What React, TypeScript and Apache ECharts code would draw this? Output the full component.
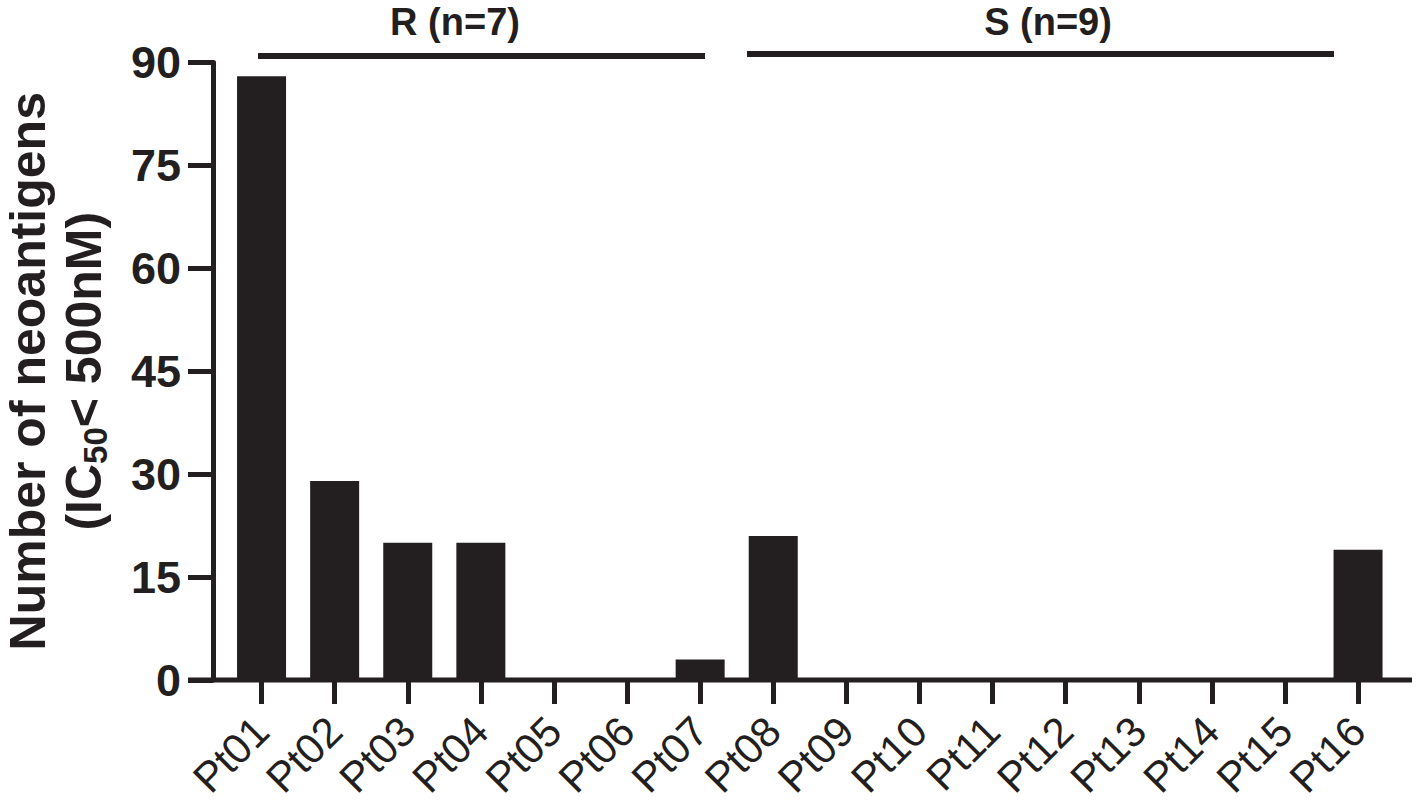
import React, { useEffect, useRef } from "react";
import * as echarts from "echarts";

const categories = ["Pt01","Pt02","Pt03","Pt04","Pt05","Pt06","Pt07","Pt08","Pt09","Pt10","Pt11","Pt12","Pt13","Pt14","Pt15","Pt16"];
const neoantigens = [88, 29, 20, 20, 0, 0, 3, 21, 0, 0, 0, 0, 0, 0, 0, 19];
const groupLabels = ["R (n=7)", "S (n=9)"];
const yMin = 0;
const yMax = 90;
const yInterval = 15;

const INK = "#231f20";
const FONT = "'Liberation Sans', Arial, Helvetica, sans-serif";

export default function App() {
  const ref = useRef<HTMLDivElement>(null);
  useEffect(() => {
    if (!ref.current) return;
    const chart = echarts.init(ref.current, undefined, { renderer: "svg" });
    chart.setOption({
      animation: false,
      backgroundColor: "#ffffff",
      textStyle: { fontFamily: FONT },
      grid: { left: 225, right: 23.4, top: 62.5, bottom: 124, containLabel: false, outerBoundsMode: "none" },
      xAxis: {
        type: "category",
        data: categories,
        axisLine: { show: false },
        axisTick: { show: true, alignWithLabel: true, length: 24, lineStyle: { color: INK, width: 5 } },
        axisLabel: { interval: 0, rotate: 45, margin: 44, fontSize: 42, color: INK, fontFamily: FONT },
        splitLine: { show: false },
      },
      yAxis: {
        type: "value",
        min: yMin,
        max: yMax,
        interval: yInterval,
        offset: 12,
        axisLine: { show: true, lineStyle: { color: INK, width: 5 } },
        axisTick: { show: true, length: 25, lineStyle: { color: INK, width: 5 } },
        axisLabel: { margin: 32, fontSize: 45, fontWeight: "bold", color: INK, fontFamily: FONT },
        splitLine: { show: false },
        name: "{a|Number of neoantigens}\n{a|(IC}{sub|50}{a|< 500nM)}",
        nameLocation: "middle",
        nameGap: 101,
        nameTextStyle: {
          color: INK,
          fontFamily: FONT,
          lineHeight: 56,
          rich: {
            a: { fontSize: 50, fontWeight: "bold", color: INK, lineHeight: 56, fontFamily: FONT },
            sub: { fontSize: 33, fontWeight: "bold", color: INK, lineHeight: 56, verticalAlign: "bottom", fontFamily: FONT },
          },
        },
      },
      graphic: [
        { type: "line", shape: { x1: 188, y1: 680, x2: 1412, y2: 680 }, style: { stroke: INK, lineWidth: 5 }, z: 10 },
        { type: "line", shape: { x1: 258, y1: 56, x2: 705, y2: 56 }, style: { stroke: INK, lineWidth: 6 } },
        { type: "line", shape: { x1: 747, y1: 54, x2: 1334, y2: 54 }, style: { stroke: INK, lineWidth: 6 } },
        { type: "text", x: 455, y: 22, style: { text: groupLabels[0], fontSize: 38, fontWeight: "bold", fill: INK, align: "center", verticalAlign: "middle", fontFamily: FONT } },
        { type: "text", x: 1048, y: 22, style: { text: groupLabels[1], fontSize: 38, fontWeight: "bold", fill: INK, align: "center", verticalAlign: "middle", fontFamily: FONT } },
      ],
      series: [
        {
          type: "bar",
          data: neoantigens,
          barWidth: 49,
          itemStyle: { color: INK },
          silent: true,
        },
      ],
    });
    return () => chart.dispose();
  }, []);
  return <div ref={ref} style={{ position: "fixed", left: 0, top: 0, width: 1418, height: 804 }} />;
}
